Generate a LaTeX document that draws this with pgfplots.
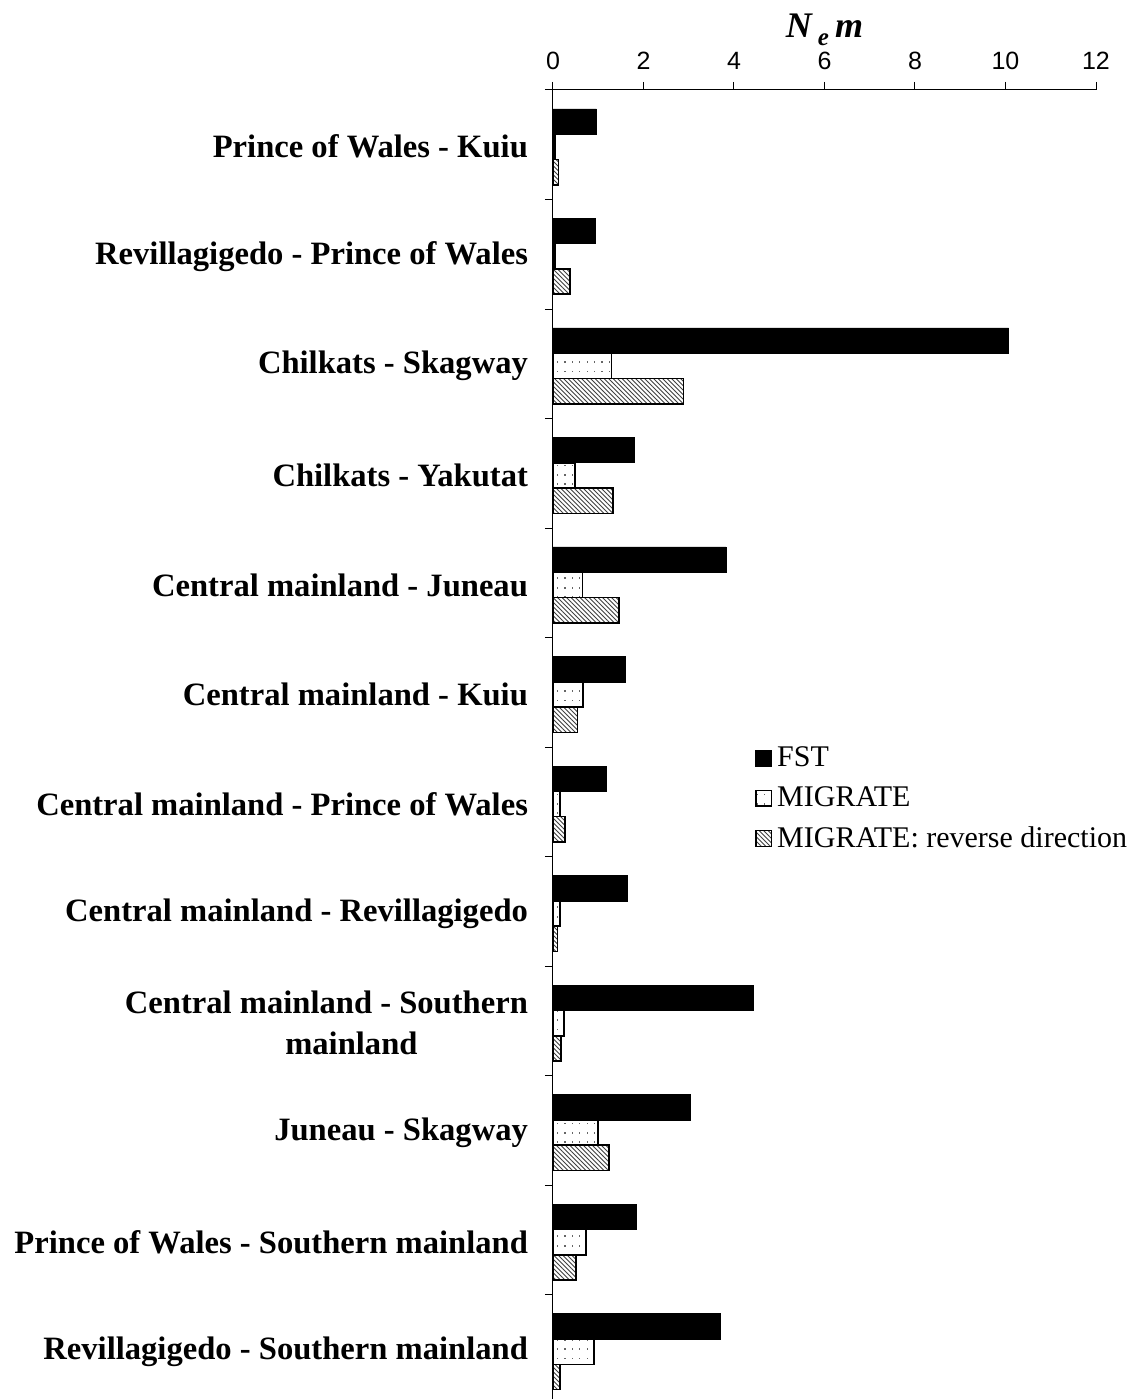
\documentclass[border=0pt]{standalone}
\usepackage{pgfplots}
\pgfplotsset{compat=1.18}
\usepackage{fontspec}
\setmainfont{Liberation Serif}
\newfontfamily\arial{Liberation Sans}
\usetikzlibrary{patterns}

\pgfdeclarepatternformonly{sparsedots}{\pgfqpoint{-0.5pt}{-0.5pt}}{\pgfqpoint{4.2pt}{5.2pt}}{\pgfqpoint{3.7pt}{4.7pt}}{%
  \pgfpathrectangle{\pgfqpoint{1pt}{1pt}}{\pgfqpoint{0.55pt}{0.9pt}}%
  \pgfusepath{fill}}
\pgfdeclarepatternformonly{hatchnw}{\pgfqpoint{-0.5pt}{-0.5pt}}{\pgfqpoint{2.75pt}{2.75pt}}{\pgfqpoint{2.25pt}{2.25pt}}{%
  \pgfsetlinewidth{0.45pt}%
  \pgfpathmoveto{\pgfqpoint{0pt}{2.25pt}}\pgfpathlineto{\pgfqpoint{2.25pt}{0pt}}%
  \pgfusepath{stroke}}

\begin{document}
\begin{tikzpicture}
\path[use as bounding box] (0,0) rectangle (564pt,699.5pt);
\begin{axis}[
  at={(276.5pt,-2.75pt)}, anchor=south west,
  scale only axis, width=271.5pt, height=657.25pt,
  clip=false,
  xbar, bar width=12.65pt,
  xmin=0, xmax=12, ymin=-0.5, ymax=11.5,
  axis x line*=top, axis y line*=left,
  x axis line style={-}, y axis line style={-},
  axis line style={line width=0.5pt, black},
  tick align=outside, major tick length=4pt,
  tick style={line width=0.5pt, black},
  xtick={0,2,...,12},
  xticklabel style={font=\arial\fontsize{12.5}{15}\selectfont, yshift=2.5pt},
  /pgf/number format/assume math mode=true,
  ytick={-0.5,0.5,...,11.5}, yticklabels={},
  extra y ticks={0,1,...,11},
  extra y tick style={major tick length=0pt},
  extra y tick labels={
    {Revillagigedo - Southern mainland},
    {Prince of Wales - Southern mainland},
    {Juneau - Skagway},
    {Central mainland - Southern\\\hspace*{25pt}mainland},
    {Central mainland - Revillagigedo},
    {Central mainland - Prince of Wales},
    {Central mainland - Kuiu},
    {Central mainland - Juneau},
    {Chilkats - Yakutat},
    {Chilkats - Skagway},
    {Revillagigedo - Prince of Wales},
    {Prince of Wales - Kuiu}},
  yticklabel style={font=\bfseries\fontsize{16.3}{20.5}\selectfont, align=center, xshift=-9pt, yshift=-1pt},
  legend style={at={(0.372,0.4608)}, anchor=west, draw=none, fill=none,
    font=\fontsize{15}{18}\selectfont, row sep=6.5pt, inner sep=0pt,
    nodes={inner sep=1pt}},
  legend cell align=left,
  legend image code/.code={\draw[#1, line width=0.6pt] (0pt,-3.9pt) rectangle (7.8pt,3.9pt);},
  /tikz/every odd column/.append style={column sep=1.5pt},
]
\addplot[draw=black, fill=black, line width=0.3pt, bar shift=11.65pt] coordinates {
  (0.96,11) (0.945,10) (10.07,9) (1.79,8) (3.82,7) (1.60,6)
  (1.18,5) (1.65,4) (4.43,3) (3.03,2) (1.85,1) (3.70,0)};
\addlegendentry{FST}
\addplot[draw=black, line width=0.8pt, pattern=sparsedots, pattern color=black!60, bar shift=-1pt] coordinates {
  (0.04,11) (0.04,10) (1.29,9) (0.49,8) (0.65,7) (0.66,6)
  (0.15,5) (0.15,4) (0.24,3) (0.99,2) (0.73,1) (0.91,0)};
\addlegendentry{MIGRATE}
\addplot[draw=black, line width=0.8pt, pattern=hatchnw, pattern color=black!75, bar shift=-13.65pt] coordinates {
  (0.125,11) (0.38,10) (2.88,9) (1.32,8) (1.46,7) (0.54,6)
  (0.26,5) (0.10,4) (0.18,3) (1.24,2) (0.51,1) (0.16,0)};
\addlegendentry{MIGRATE: reverse direction}
\node[font=\bfseries\itshape\fontsize{18}{20}\selectfont, inner sep=0pt] at (rel axis cs:0.5,1) [yshift=30pt] {N\,\raisebox{-4pt}{\fontsize{12.5}{13}\selectfont e}\,m};
\end{axis}
\end{tikzpicture}
\end{document}
